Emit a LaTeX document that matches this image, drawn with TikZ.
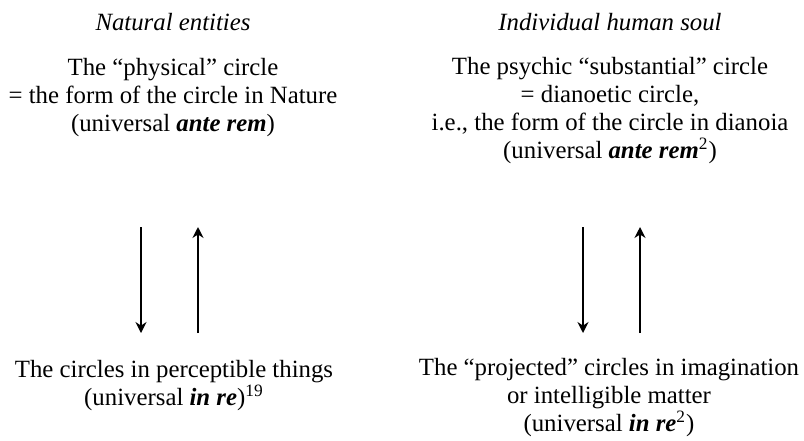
\documentclass[tikz,border=0pt]{standalone}
\usepackage{fontspec}
\setmainfont{Liberation Serif}
\usetikzlibrary{arrows.meta}

\begin{document}
\begin{tikzpicture}[
x=0.5pt, y=-0.5pt,
    >={Stealth[length=5.5pt,width=5.5pt]},
    txt/.style={align=center, inner sep=0pt, font=\fontsize{12.4}{14}\selectfont},
    head/.style={inner sep=0pt, font=\fontsize{12.4}{14}\selectfont\itshape}
]
\useasboundingbox (0,0) rectangle (804,440);

% 两栏标题
\node[head, anchor=base] (h0) at (173,30) {Natural entities};
\node[head, anchor=base] (h1) at (610,30) {Individual human soul};

% 上方：ante rem (base = 最后一行)
\node[txt, anchor=base] (u0) at (173,131) {The “physical” circle\\= the form of the circle in Nature\\(universal \textbf{\textit{ante rem}})};
\node[txt, anchor=base] (u1) at (610,158) {The psychic “substantial” circle\\= dianoetic circle,\\i.e., the form of the circle in dianoia\\(universal \textbf{\textit{ante rem}}\textsuperscript{2})};

% 下方：in re
\node[txt, anchor=base] (d0) at (174,405) {The circles in perceptible things\\(universal \textbf{\textit{in re}})\textsuperscript{19}};
\node[txt, anchor=base] (d1) at (609,431) {The “projected” circles in imagination\\or intelligible matter\\(universal \textbf{\textit{in re}}\textsuperscript{2})};

% 箭头端点
\coordinate (a0) at (141,227);
\coordinate (b0) at (141,333);
\coordinate (a1) at (198,227);
\coordinate (b1) at (198,333);
\coordinate (a2) at (583,227);
\coordinate (b2) at (583,333);
\coordinate (a3) at (640,227);
\coordinate (b3) at (640,333);

% 左栏：向下, 向上
\draw[->,line width=0.8pt] (a0) -- (b0);
\draw[->,line width=0.8pt] (b1) -- (a1);

% 右栏：向下, 向上
\draw[->,line width=0.8pt] (a2) -- (b2);
\draw[->,line width=0.8pt] (b3) -- (a3);

\end{tikzpicture}
\end{document}
